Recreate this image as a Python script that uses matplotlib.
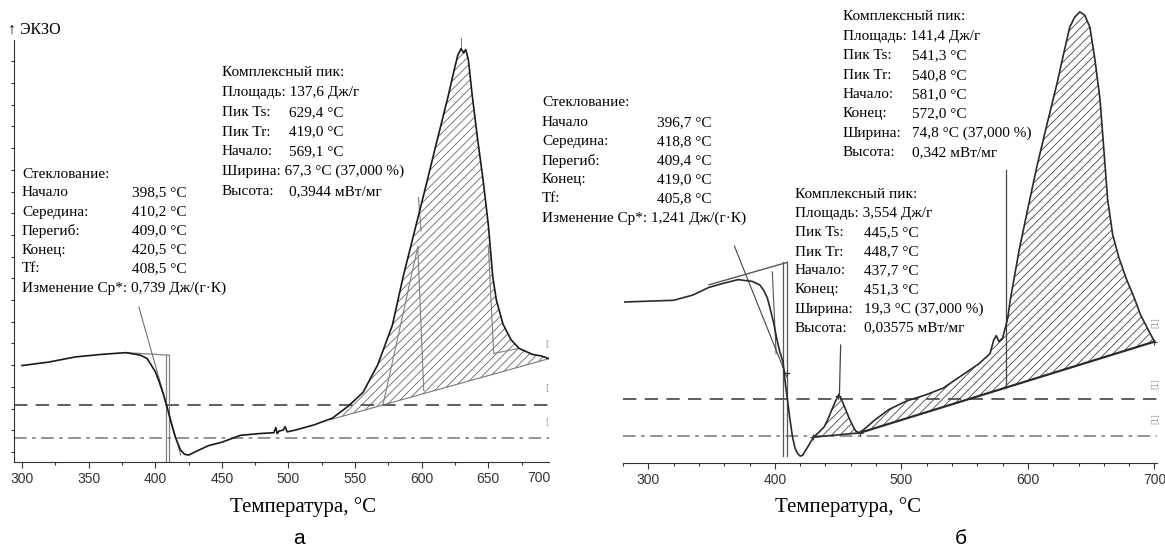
import matplotlib
matplotlib.use('Agg')
import matplotlib.pyplot as plt
from matplotlib.ticker import MultipleLocator

W, H = 1165, 548
SERIF = ['Liberation Serif', 'DejaVu Serif']
NARROW = ['Liberation Sans Narrow', 'Liberation Sans', 'DejaVu Sans']
SANS = ['Liberation Sans', 'DejaVu Sans']
FS = 11.0

# ---- panel a: DSC curve (heat flow, mW/mg, arbitrary offset)
temp_a = [300, 320, 340, 360, 378, 389, 394, 400, 403, 406, 409, 412, 415, 419,
          422, 425, 429, 433, 440, 450, 464, 478, 489, 490.5, 491.5, 493, 496,
          497.5, 499, 502, 505, 519, 533, 545, 556, 567, 578, 586, 592, 598, 604,
          610, 616, 620, 624, 627, 629.5, 631.5, 633, 635, 638, 642, 646, 650,
          653.3, 656, 661, 667, 673, 683, 690, 695.5]
heat_a = [0.112, 0.116, 0.122, 0.125, 0.127, 0.124, 0.120, 0.105, 0.093, 0.079,
          0.063, 0.045, 0.029, 0.014, 0.009, 0.008, 0.011, 0.014, 0.019, 0.023,
          0.031, 0.033, 0.034, 0.040, 0.033, 0.036, 0.037, 0.041, 0.035, 0.036,
          0.037, 0.043, 0.051, 0.065, 0.081, 0.113, 0.159, 0.215, 0.252, 0.289,
          0.326, 0.364, 0.401, 0.426, 0.453, 0.472, 0.480, 0.475, 0.479, 0.467,
          0.424, 0.374, 0.328, 0.275, 0.215, 0.188, 0.160, 0.142, 0.132, 0.125,
          0.123, 0.120]
base_a_t = [531, 695.5]
base_a_v = [0.049, 0.120]
dash_a = 0.066
dashdot_a = 0.028

# ---- panel b
temp_b = [281.5, 300, 320, 335, 348, 360, 371, 382, 388, 391, 394, 396, 399, 402,
          404, 406.5, 408, 410, 412, 414, 416, 418, 420, 422, 424, 427, 430.5,
          435, 439, 442, 445, 448, 450, 452, 454, 456, 459, 462, 464, 467, 472,
          479, 490, 504, 519, 533, 547, 561, 570, 573, 575, 577, 580, 584, 586,
          593, 600, 607, 615, 623, 628, 633, 637, 641, 645, 649, 653, 657, 660,
          663, 667, 672, 678, 684, 689, 695, 700]
heat_b = [0.187, 0.188, 0.189, 0.195, 0.204, 0.209, 0.213, 0.211, 0.207, 0.201,
          0.192, 0.181, 0.163, 0.141, 0.129, 0.117, 0.096, 0.073, 0.050, 0.030,
          0.017, 0.011, 0.008, 0.009, 0.014, 0.021, 0.030, 0.036, 0.042, 0.051,
          0.062, 0.072, 0.078, 0.076, 0.069, 0.062, 0.051, 0.042, 0.037, 0.035,
          0.041, 0.050, 0.062, 0.072, 0.079, 0.087, 0.101, 0.115, 0.127, 0.143,
          0.148, 0.141, 0.145, 0.168, 0.189, 0.247, 0.296, 0.344, 0.393, 0.441,
          0.474, 0.506, 0.518, 0.524, 0.520, 0.506, 0.468, 0.422, 0.364, 0.306,
          0.265, 0.238, 0.213, 0.192, 0.172, 0.155, 0.141]
base_b_t = [467, 700]
base_b_v = [0.035, 0.141]
small_base_t = [430.5, 467]
small_base_v = [0.030, 0.035]
dash_b = 0.074
dashdot_b = 0.031

# ---- annotation texts
glass_a = [('Стеклование:', ''), ('Начало', '398,5 °C'), ('Середина:', '410,2 °C'),
           ('Перегиб:', '409,0 °C'), ('Конец:', '420,5 °C'), ('Tf:', '408,5 °C'),
           ('Изменение Cp*: 0,739 Дж/(г·К)', '')]
peak_a = [('Комплексный пик:', ''), ('Площадь: 137,6 Дж/г', ''),
          ('Пик Ts:', '629,4 °C'), ('Пик Tr:', '419,0 °C'), ('Начало:', '569,1 °C'),
          ('Ширина: 67,3 °C (37,000 %)', ''), ('Высота:', '0,3944 мВт/мг')]
glass_b = [('Стеклование:', ''), ('Начало', '396,7 °C'), ('Середина:', '418,8 °C'),
           ('Перегиб:', '409,4 °C'), ('Конец:', '419,0 °C'), ('Tf:', '405,8 °C'),
           ('Изменение Cp*: 1,241 Дж/(г·К)', '')]
peak_b = [('Комплексный пик:', ''), ('Площадь: 141,4 Дж/г', ''),
          ('Пик Ts:', '541,3 °C'), ('Пик Tr:', '540,8 °C'), ('Начало:', '581,0 °C'),
          ('Конец:', '572,0 °C'), ('Ширина:', '74,8 °C (37,000 %)'),
          ('Высота:', '0,342 мВт/мг')]
small_b = [('Комплексный пик:', ''), ('Площадь: 3,554 Дж/г', ''),
           ('Пик Ts:', '445,5 °C'), ('Пик Tr:', '448,7 °C'), ('Начало:', '437,7 °C'),
           ('Конец:', '451,3 °C'), ('Ширина:', '19,3 °C (37,000 %)'),
           ('Высота:', '0,03575 мВт/мг')]

fig = plt.figure(figsize=(W / 100, H / 100), dpi=100)


def put(x, y, s, **kw):
    kw.setdefault('fontfamily', SERIF)
    kw.setdefault('fontsize', FS)
    kw.setdefault('va', 'center')
    fig.text(x / W, 1 - y / H, s, **kw)


def block(lines, x, xv, y0, step):
    for i, (lab, val) in enumerate(lines):
        put(x, y0 + i * step, lab)
        if val:
            put(xv, y0 + i * step, val)


def style_axis(ax, major, minor):
    for s in ['top', 'right']:
        ax.spines[s].set_visible(False)
    ax.spines['bottom'].set_color('#333333')
    ax.xaxis.set_major_locator(MultipleLocator(major))
    ax.xaxis.set_minor_locator(MultipleLocator(minor))
    ax.tick_params(axis='x', which='major', length=4, width=0.8, color='#333333',
                   pad=3, labelsize=10, labelcolor='#333333')
    ax.tick_params(axis='x', which='minor', length=2.5, width=0.8, color='#333333')
    for lab in ax.get_xticklabels():
        lab.set_fontfamily(NARROW)


def hatch_area(ax, t, v, t0, t1, bt, bv, color):
    xs = [bt[0]] + [a for a in t if t0 < a < t1] + [bt[1]]
    ys = [bv[0]] + [b for a, b in zip(t, v) if t0 < a < t1] + [bv[1]]
    xs += [bt[1], bt[0]]
    ys += [bv[1], bv[0]]
    ax.fill(xs, ys, facecolor='none', edgecolor=color, hatch='////', linewidth=0)


plt.rcParams['hatch.linewidth'] = 0.6

# ================= panel a =================
ax = fig.add_axes([14 / W, (H - 462) / H, (549 - 14) / W, (462 - 40) / H])
ax.set_xlim(294, 695.5)
ax.set_ylim(0, 0.49)
style_axis(ax, 50, 25)
ax.spines['left'].set_color('#333333')
ax.set_yticks([0.0116 + 0.0252 * i for i in range(19)])
ax.set_yticklabels([])
ax.tick_params(axis='y', length=2.5, width=0.8, color='#333333')

ax.axhline(dash_a, color='#444444', lw=1.2, dashes=(8, 5))
ax.axhline(dashdot_a, color='#8a8a8a', lw=1.3, dashes=(7, 3, 2, 3))
hatch_area(ax, temp_a, heat_a, base_a_t[0], base_a_t[1], base_a_t, base_a_v, '#666666')
ax.plot(base_a_t, base_a_v, color='#777777', lw=0.8)
# glass transition construction
g = '#808080'
ax.plot([378, 410.6], [0.127, 0.124], color=g, lw=0.9)
ax.plot([408.3, 408.3], [0.124, 0.0], color=g, lw=0.9)
ax.plot([410.6, 410.6], [0.124, 0.0], color=g, lw=0.9)
ax.plot([387.7, 419.2], [0.180, 0.008], color='#606060', lw=0.7)
# peak construction
ax.plot([571, 597], [0.067, 0.25], color=g, lw=0.8)
ax.plot([601.5, 597], [0.083, 0.25], color=g, lw=0.8)
ax.plot([654, 650], [0.126, 0.25], color=g, lw=0.8)
ax.plot([654, 673], [0.126, 0.132], color=g, lw=0.8)
ax.plot([597.5, 599.5], [0.307, 0.268], color=g, lw=0.8)
ax.plot([629.5, 629.5], [0.480, 0.492], color=g, lw=0.8, clip_on=False)
ax.plot(temp_a, heat_a, color='#1a1a1a', lw=1.2)
for yv in [0.132, 0.081, 0.042]:
    ax.text(693, yv, '[', color='#999999', fontsize=6, va='bottom')
ax.text(1.003, -0.022, '700', transform=ax.transAxes, ha='right', va='top',
        fontsize=10, color='#333333', fontfamily=NARROW)

# ================= panel b =================
bx = fig.add_axes([623 / W, (H - 463) / H, (1157 - 623) / W, (463 - 5) / H])
bx.set_xlim(280, 702)
bx.set_ylim(0, 0.532)
style_axis(bx, 100, 20)
bx.spines['left'].set_visible(False)
bx.set_yticks([])

bx.axhline(dash_b, color='#444444', lw=1.2, dashes=(8, 5))
bx.axhline(dashdot_b, color='#8a8a8a', lw=1.3, dashes=(7, 3, 2, 3))
hatch_area(bx, temp_b, heat_b, base_b_t[0], base_b_t[1], base_b_t, base_b_v, '#444444')
hatch_area(bx, temp_b, heat_b, small_base_t[0], small_base_t[1], small_base_t,
           small_base_v, '#444444')
bx.plot(base_b_t, base_b_v, color='#2a2a2a', lw=1.6)
bx.plot(small_base_t, small_base_v, color='#2a2a2a', lw=1.2)
# glass construction
bx.plot([348, 409.7], [0.207, 0.233], color='#555555', lw=1.0)
bx.plot([406.5, 406.5], [0.233, 0.008], color='#555555', lw=0.9)
bx.plot([409.7, 409.7], [0.233, 0.008], color='#555555', lw=0.9)
bx.plot([398, 401], [0.222, 0.127], color='#555555', lw=0.8)
bx.plot([368, 409.5], [0.252, 0.100], color='#444444', lw=0.8)
# pointers
bx.plot([452, 451], [0.137, 0.078], color='#444444', lw=0.9)
bx.plot([583, 583], [0.340, 0.087], color='#444444', lw=0.9)
bx.plot(temp_b, heat_b, color='#2a2a2a', lw=1.2)
bx.plot([409.5, 430.5, 450, 467, 700], [0.105, 0.030, 0.078, 0.035, 0.141], '+',
        color='#333333', ms=5, mew=0.8)
for yv in [0.157, 0.086, 0.045]:
    bx.text(697, yv, '[1]', color='#999999', fontsize=5.5, va='bottom', rotation=90)

# ================= texts =================
put(8, 30, '↑ ЭКЗО', fontsize=11.5)
block(glass_a, 22, 132, 174, 19.0)
block(peak_a, 222, 289, 73, 19.7)
block(glass_b, 542, 657, 103, 19.2)
block(peak_b, 843, 912, 17, 19.4)
block(small_b, 795, 864, 195, 19.0)

put(303, 507, 'Температура, °C', ha='center', fontsize=15)
put(848, 507, 'Температура, °C', ha='center', fontsize=15)
put(299, 538, 'а', ha='center', fontsize=15, fontfamily=SANS)
put(961, 538, 'б', ha='center', fontsize=15, fontfamily=SANS)

fig.savefig('out.png', dpi=100)
